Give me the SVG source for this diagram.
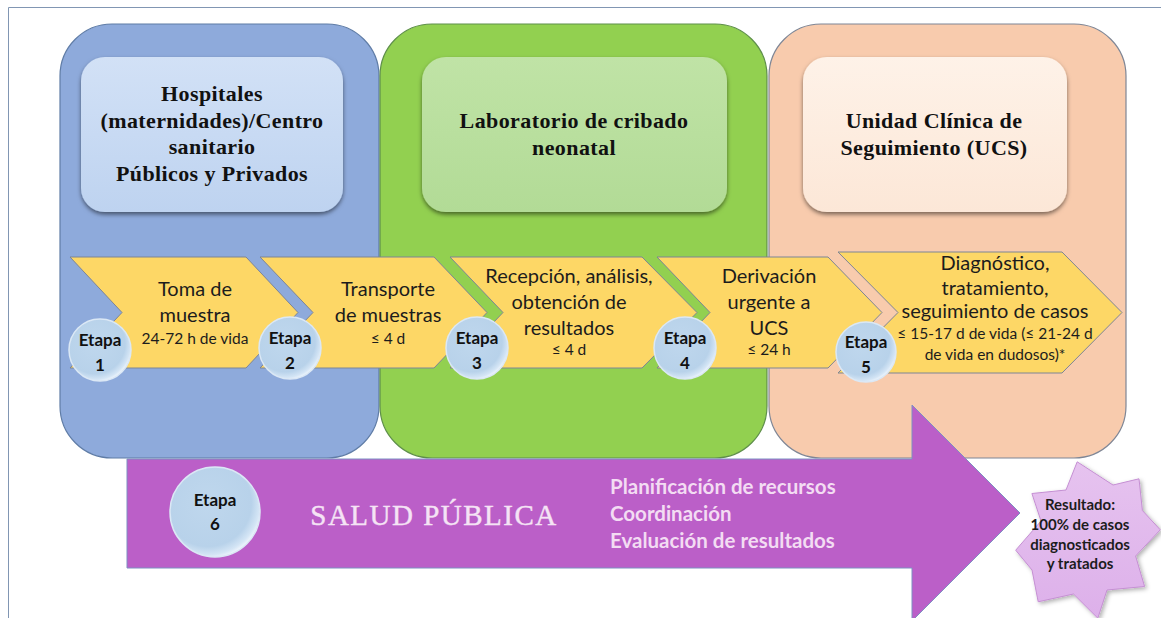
<svg xmlns="http://www.w3.org/2000/svg" width="1161" height="618" viewBox="0 0 1161 618">
<defs>
<style>
.panel{stroke-width:1.2}
.inner{stroke:none}
.chev{fill:#fdd766;stroke:#7d8596;stroke-width:1}
.ttl{font-family:"Liberation Serif",serif;font-weight:bold;font-size:22px;fill:#111;text-anchor:middle;letter-spacing:0.4px}
.ct{font-family:Lato,"Liberation Sans",sans-serif;font-size:20px;fill:#1c1c1c;text-anchor:middle}
.cs{font-family:Lato,"Liberation Sans",sans-serif;font-size:15.5px;fill:#1c1c1c;text-anchor:middle}
.et{font-family:Lato,"Liberation Sans",sans-serif;font-weight:bold;font-size:17px;fill:#111;text-anchor:middle}
.bub{fill:url(#bubg);stroke:#dbe8f5;stroke-width:1.5}
.pl{font-family:Lato,"Liberation Sans",sans-serif;font-weight:bold;font-size:20.5px;fill:#f3dcf3}
.st{font-family:Lato,"Liberation Sans",sans-serif;font-weight:bold;font-size:15px;fill:#1c1c1c;text-anchor:middle}
</style>
<radialGradient id="bubg" cx="0.42" cy="0.4" r="0.62">
<stop offset="0" stop-color="#bfd7ed"/>
<stop offset="0.78" stop-color="#b8d2ea"/>
<stop offset="0.93" stop-color="#d4e5f5"/>
<stop offset="1" stop-color="#eef5fc"/>
</radialGradient>
<linearGradient id="gb" x1="0" y1="0" x2="0" y2="1"><stop offset="0" stop-color="#d2e1f6"/><stop offset="1" stop-color="#bed3f0"/></linearGradient>
<linearGradient id="gg" x1="0" y1="0" x2="0" y2="1"><stop offset="0" stop-color="#c0e3a6"/><stop offset="1" stop-color="#b2db96"/></linearGradient>
<linearGradient id="gp" x1="0" y1="0" x2="0" y2="1"><stop offset="0" stop-color="#fef2e8"/><stop offset="1" stop-color="#fce7d7"/></linearGradient>
<linearGradient id="gs" x1="0" y1="0" x2="0" y2="1"><stop offset="0" stop-color="#e6c3ef"/><stop offset="1" stop-color="#ddb0ea"/></linearGradient>
<filter id="sh" x="-10%" y="-10%" width="120%" height="125%">
<feDropShadow dx="0" dy="2.5" stdDeviation="2" flood-color="#000" flood-opacity="0.5"/>
</filter>
<filter id="sh2" x="-10%" y="-10%" width="125%" height="125%">
<feDropShadow dx="2" dy="2" stdDeviation="2" flood-color="#000" flood-opacity="0.3"/>
</filter>
</defs>
<rect width="1161" height="618" fill="#fff"/>
<g id="frame" fill="none" stroke="#8196b3" stroke-width="1">
<path d="M8.5 618 V7.5 H1161"/>
</g>
<g id="panel-hospitales">
<rect class="panel" x="60" y="24" width="319" height="434" rx="52" fill="#8eaadb" stroke="#5f7ca6"/>
<rect class="inner" x="81" y="57" width="262" height="155" rx="24" fill="url(#gb)" filter="url(#sh)"/>
<text class="ttl" x="212" y="101">Hospitales</text>
<text class="ttl" x="212" y="128">(maternidades)/Centro</text>
<text class="ttl" x="212" y="154">sanitario</text>
<text class="ttl" x="212" y="181">Públicos y Privados</text>
</g>
<g id="panel-laboratorio">
<rect class="panel" x="380" y="24" width="387" height="434" rx="52" fill="#92d050" stroke="#5e8f4a"/>
<rect class="inner" x="422" y="57" width="305" height="155" rx="24" fill="url(#gg)" filter="url(#sh)"/>
<text class="ttl" x="574" y="128">Laboratorio de cribado</text>
<text class="ttl" x="574" y="155">neonatal</text>
</g>
<g id="panel-ucs">
<rect class="panel" x="769" y="24" width="357" height="434" rx="52" fill="#f8cbad" stroke="#7f8695"/>
<rect class="inner" x="803" y="57" width="264" height="155" rx="24" fill="url(#gp)" filter="url(#sh)"/>
<text class="ttl" x="934" y="128">Unidad Clínica de</text>
<text class="ttl" x="934" y="155">Seguimiento (UCS)</text>
</g>
<g id="connectors">
<polygon id="arrow-salud" points="127,459 912,459 912,405 1020,513 912,621 912,568 127,568" fill="#bb5fc8" stroke="#7d90c2" stroke-width="1"/>
</g>
<g id="etapa6-text">
<text x="434" y="525" font-family="'Liberation Serif',serif" font-size="29" letter-spacing="1.5" fill="#f5e3f5" stroke="#f5e3f5" stroke-width="0.4" text-anchor="middle">SALUD PÚBLICA</text>
<text class="pl" x="610" y="494">Planificación de recursos</text>
<text class="pl" x="610" y="521">Coordinación</text>
<text class="pl" x="610" y="548">Evaluación de resultados</text>
</g>
<g id="chevron-1">
<polygon class="chev" points="70,257 246,257 298,312.5 246,368 70,368 122,312.5"/>
<text class="ct" x="195" y="296">Toma de</text>
<text class="ct" x="195" y="322">muestra</text>
<text class="cs" x="195" y="344">24-72 h de vida</text>
</g>
<g id="chevron-2">
<polygon class="chev" points="260,257 434,257 487,312.5 434,368 260,368 313,312.5"/>
<text class="ct" x="388" y="296">Transporte</text>
<text class="ct" x="388" y="322">de muestras</text>
<text class="cs" x="388" y="344">≤ 4 d</text>
</g>
<g id="chevron-3">
<polygon class="chev" points="450,257 642,257 697,312.5 642,368 450,368 503,312.5"/>
<text class="ct" x="569" y="283">Recepción, análisis,</text>
<text class="ct" x="569" y="309">obtención de</text>
<text class="ct" x="569" y="335">resultados</text>
<text class="cs" x="569" y="355">≤ 4 d</text>
</g>
<g id="chevron-4">
<polygon class="chev" points="657,257 828,257 882,312.5 828,368 657,368 710,312.5"/>
<text class="ct" x="769" y="283">Derivación</text>
<text class="ct" x="769" y="309">urgente a</text>
<text class="ct" x="769" y="335">UCS</text>
<text class="cs" x="769" y="355">≤ 24 h</text>
</g>
<g id="chevron-5">
<polygon class="chev" points="838,252 1062,252 1122,312.5 1062,373 838,373 898,312.5"/>
<text class="ct" x="995" y="270">Diagnóstico,</text>
<text class="ct" x="995" y="295">tratamiento,</text>
<text class="ct" x="995" y="318">seguimiento de casos</text>
<text class="cs" x="995" y="339">≤ 15-17 d de vida (≤ 21-24 d</text>
<text class="cs" x="995" y="360">de vida en dudosos)*</text>
</g>
<g id="etapa-1"><circle class="bub" cx="100" cy="350" r="31"/><text class="et" x="100" y="346">Etapa</text><text class="et" x="100" y="371">1</text></g>
<g id="etapa-2"><circle class="bub" cx="290" cy="348" r="31"/><text class="et" x="290" y="344">Etapa</text><text class="et" x="290" y="369">2</text></g>
<g id="etapa-3"><circle class="bub" cx="477" cy="348" r="31"/><text class="et" x="477" y="344">Etapa</text><text class="et" x="477" y="369">3</text></g>
<g id="etapa-4"><circle class="bub" cx="685" cy="348" r="31"/><text class="et" x="685" y="344">Etapa</text><text class="et" x="685" y="369">4</text></g>
<g id="etapa-5"><circle class="bub" cx="866" cy="352" r="30"/><text class="et" x="866" y="348">Etapa</text><text class="et" x="866" y="373">5</text></g>
<g id="etapa-6"><circle class="bub" cx="215" cy="512" r="45"/><text class="et" x="215" y="506">Etapa</text><text class="et" x="215" y="530">6</text></g>
<g id="resultado">
<polygon points="1077.2,461.8 1113,485 1139,478.8 1142.4,510.5 1160.3,529.8 1135.6,556 1144.6,586.5 1107,590 1097.8,618.2 1073.5,594 1038.2,601.8 1032,570 1015.7,550.2 1041,521 1031.9,493.5 1066,490" fill="url(#gs)" stroke="#c58fd3" stroke-width="1" filter="url(#sh2)"/>
<text class="st" x="1080" y="510">Resultado:</text>
<text class="st" x="1080" y="530">100% de casos</text>
<text class="st" x="1080" y="550">diagnosticados</text>
<text class="st" x="1080" y="569">y tratados</text>
</g>
</svg>
